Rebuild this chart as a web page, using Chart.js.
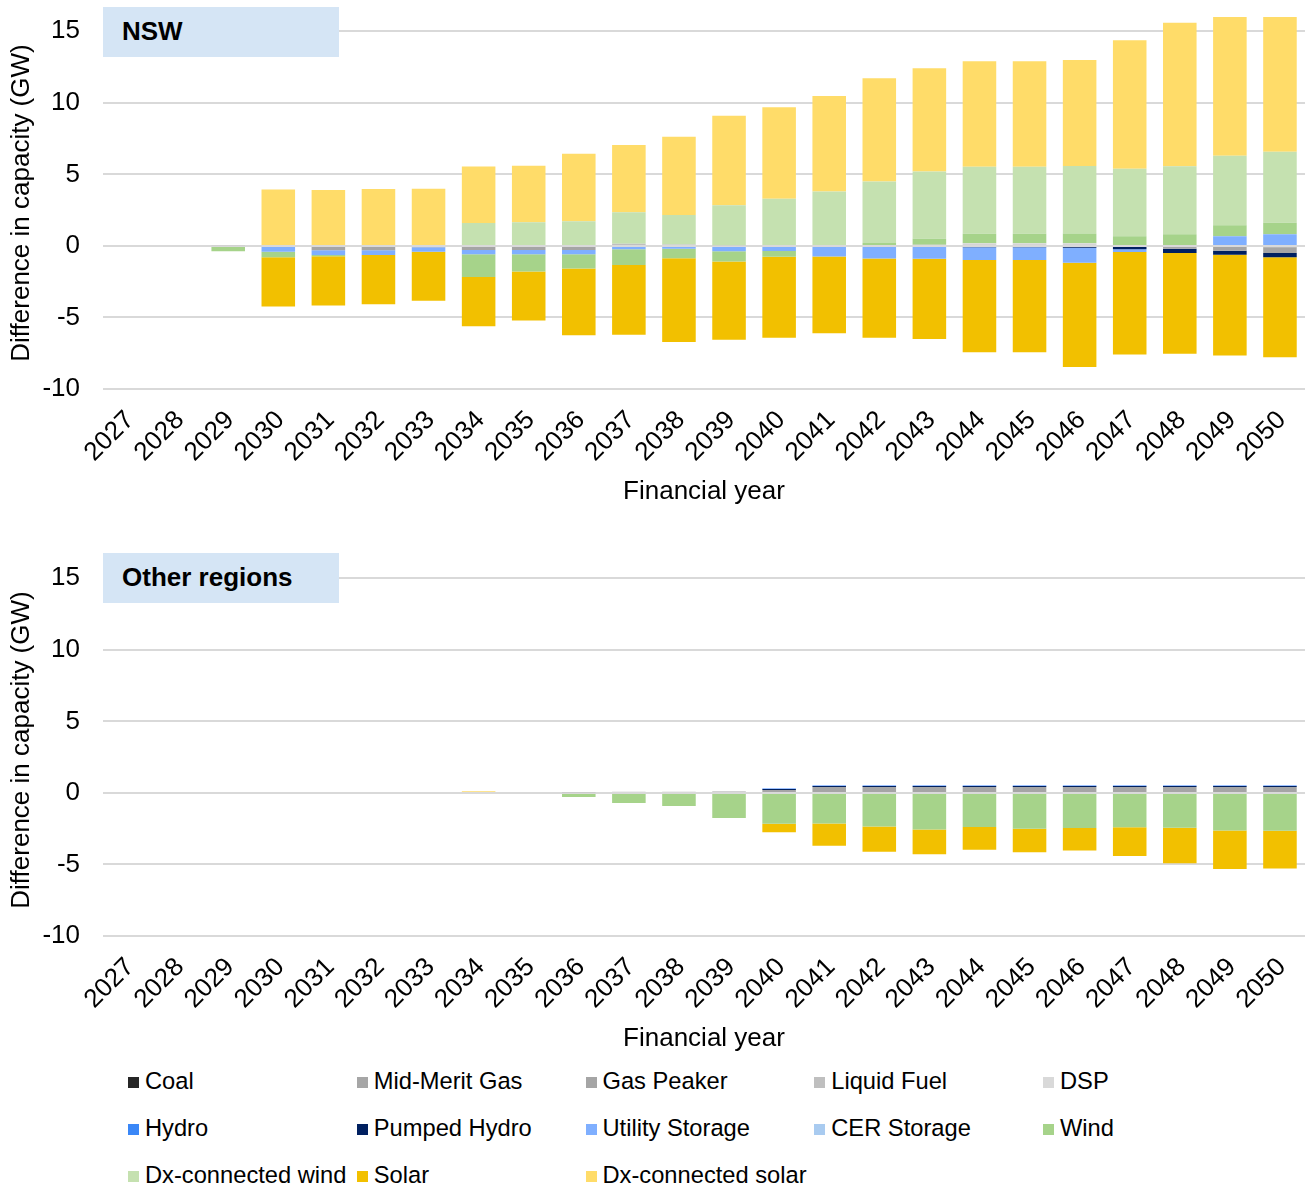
<!DOCTYPE html>
<html>
<head>
<meta charset="utf-8">
<script src="https://cdn.jsdelivr.net/npm/chart.js@4.4.1/dist/chart.umd.min.js"></script>
<style>
  body { margin: 0; background: #fff; font-family: "Liberation Sans", Arial, sans-serif; }
  #wrap { position: relative; width: 1307px; height: 1187px; }
  canvas { position: absolute; left: 0; }
  .tag { position: absolute; left: 103px; width: 236px; height: 50px; background: #D5E5F5;
         font-weight: bold; font-size: 26px; line-height: 48px; padding-left: 19px; box-sizing: border-box; color: #000; }
  .item { position: absolute; font-size: 23.7px; line-height: 28px; white-space: nowrap; color: #000; }
  .item i { display: inline-block; width: 11px; height: 11px; margin-right: 6px; vertical-align: 1px; }
</style>
</head>
<body>
<div id="wrap">
  <canvas id="nsw" width="1307" height="520" style="top:0"></canvas>
  <canvas id="other" width="1307" height="520" style="top:547px"></canvas>
  <div class="tag" style="top:7px">NSW</div>
  <div class="tag" style="top:553px">Other regions</div>
  <div id="legend"></div>
</div>
<script>
const years = ["2027","2028","2029","2030","2031","2032","2033","2034","2035","2036","2037","2038",
               "2039","2040","2041","2042","2043","2044","2045","2046","2047","2048","2049","2050"];

const seriesNames = ["Coal", "Mid-Merit Gas", "Gas Peaker", "Liquid Fuel", "DSP", "Hydro", "Pumped Hydro",
                     "Utility Storage", "CER Storage", "Wind", "Dx-connected wind", "Solar", "Dx-connected solar"];
const seriesColors = ["#262626", "#A6A6A6", "#A5A5A5", "#BFBFBF", "#D9D9D9", "#3A87F7", "#002060",
                      "#7FAFFF", "#A9CBF0", "#A6D38A", "#C5E1B0", "#F2C000", "#FFDC69"];

// NSW (GW difference), 2027..2050
const nswCoal        = [0,0,0,0,0,0,0,0,0,0,0,0,0,0,0,0,0,0,0,0,0,0,0,0];
const nswMidMerit    = [0,0,0,0,0,0,0,0,0,0,0,0,0,0,0,0,0,0,0,0,0,-0.19,0,-0.1];
const nswGasPeaker   = [0,0,0,0,-0.3,-0.3,-0.1,-0.28,-0.28,-0.28,0,0,0,0,0,0,0,0,0,0,0,0,-0.33,-0.4];
const nswLiquidFuel  = [0,0,0.05,0,0,0,0,0,0,0,0.15,0.1,0.05,0,0,0,0.08,0.1,0.1,0.1,0,0,0,0];
const nswDSP         = [0,0,0,0,0,0,0,0,0,0,0,0,0,0,0,0,0,0.08,0.08,0.08,0,0,0,0];
const nswHydro       = [0,0,0,0,0,0,0,0,0,0,0,0,0,0,0,0,0,0,0,0,0,0,0,0];
const nswPumped      = [0,0,0,0,0,0,0,0,0,0,0,0,0,0,0,0,0,-0.09,-0.09,-0.12,-0.23,-0.3,-0.28,-0.3];
const nswUtility     = [0,0,0,-0.4,-0.33,-0.33,-0.3,-0.3,-0.3,-0.3,-0.23,-0.2,-0.37,-0.35,-0.74,-0.88,-0.9,-0.9,-0.9,-1.05,-0.19,0,0.67,0.81];
const nswCER         = [0,0,0,0,0,0,0,0,0,0,0,0,0,0,0,0,0,0,0,0,0,0,0,0];
const nswWind        = [0,0,-0.37,-0.4,-0.1,0,0,-1.6,-1.2,-1.0,-1.1,-0.67,-0.72,-0.4,0,0.2,0.42,0.67,0.67,0.68,0.67,0.81,0.77,0.81];
const nswDxWind      = [0,0,0,0,0,0,0,1.6,1.65,1.73,2.2,2.06,2.79,3.3,3.81,4.31,4.7,4.68,4.68,4.72,4.73,4.75,4.86,4.96];
const nswSolar       = [0,0,0,-3.43,-3.43,-3.45,-3.43,-3.43,-3.43,-4.67,-4.87,-5.84,-5.47,-5.67,-5.37,-5.53,-5.6,-6.45,-6.45,-7.3,-7.16,-7.05,-7.05,-6.98];
const nswDxSolar     = [0,0,0,3.94,3.9,3.97,4.0,3.95,3.95,4.72,4.7,5.47,6.25,6.4,6.66,7.21,7.22,7.37,7.37,7.42,8.97,10.04,9.9,9.6];

// Other regions (GW difference), 2027..2050
const othCoal        = [0,0,0,0,0,0,0,0,0,0,0,0,0,0,0,0,0,0,0,0,0,0,0,0];
const othMidMerit    = [0,0,0,0,0,0,0,0,0,0,0,0,0,0,0,0,0,0,0,0,0,0,0,0];
const othGasPeaker   = [0,0,0,0,0,0,0,0,0,0,0,0,0.1,0.21,0.42,0.42,0.42,0.42,0.42,0.42,0.42,0.42,0.42,0.42];
const othLiquidFuel  = [0,0,0,0,0,0,0,0,0,0.03,0.08,0.08,0,0,0,0,0,0,0,0,0,0,0,0];
const othDSP         = [0,0,0,0,0,0,0,0,0,0,0,0,0,0,0,0,0,0,0,0,0,0,0,0];
const othHydro       = [0,0,0,0,0,0,0,0,0,0,0,0,0,0,0,0,0,0,0,0,0,0,0,0];
const othPumped      = [0,0,0,0,0,0,0,0,0,0,0,0,0,0.07,0.06,0.06,0.06,0.06,0.06,0.06,0.06,0.06,0.06,0.06];
const othUtility     = [0,0,0,0,0,0,0,0,0,0,0,0,0,0.05,0.05,0.05,0.05,0.05,0.05,0.05,0.05,0.05,0.05,0.05];
const othCER         = [0,0,0,0,0,0,0,0,0,0,0,0,0,0,0,0,0,0,0,0,0,0,0,0];
const othWind        = [0,0,0,0,0,0,0,0,0,-0.28,-0.7,-0.92,-1.76,-2.15,-2.13,-2.34,-2.55,-2.38,-2.5,-2.45,-2.4,-2.43,-2.62,-2.64];
const othDxWind      = [0,0,0,0,0,0,0,0,0,0,0,0,0,0,0,0,0,0,0,0,0,0,0,0];
const othSolar       = [0,0,0,0,0,0,0,0,0,0,0,0,0,-0.6,-1.57,-1.78,-1.74,-1.6,-1.64,-1.57,-2.0,-2.48,-2.7,-2.64];
const othDxSolar     = [0,0,0,0,0,0,0,0.12,0,0,0,0,0,0,0,0,0,0,0,0,0,0,0,0];

const yTicks = [-10, -5, 0, 5, 10, 15];

const nswData = [nswCoal, nswMidMerit, nswGasPeaker, nswLiquidFuel, nswDSP, nswHydro, nswPumped,
                 nswUtility, nswCER, nswWind, nswDxWind, nswSolar, nswDxSolar];
const othData = [othCoal, othMidMerit, othGasPeaker, othLiquidFuel, othDSP, othHydro, othPumped,
                 othUtility, othCER, othWind, othDxWind, othSolar, othDxSolar];

const font = "'Liberation Sans', Arial, sans-serif";

function makePanel(id, values) {
  new Chart(document.getElementById(id), {
    type: "bar",
    data: {
      labels: years,
      datasets: seriesNames.map((name, i) => ({
        label: name,
        data: values[i],
        backgroundColor: seriesColors[i],
        borderWidth: 0,
        barPercentage: 0.67,
        categoryPercentage: 1,
        stack: "s",
      })),
    },
    options: {
      responsive: false,
      animation: false,
      layout: { padding: { top: 17, right: 2, left: 0, bottom: 0 } },
      plugins: { legend: { display: false }, tooltip: { enabled: false } },
      scales: {
        x: {
          stacked: true,
          grid: { display: false },
          border: { display: false },
          ticks: { maxRotation: 45, minRotation: 45, color: "#000", padding: 8, labelOffset: 2, font: { family: font, size: 26 } },
          title: { display: true, text: "Financial year", color: "#000", font: { family: font, size: 26 }, padding: { top: 0, bottom: 13 } },
          afterFit: (s) => { s.height = 131; s.paddingLeft = 0; s.paddingRight = 0; },
        },
        y: {
          stacked: true,
          min: -10,
          max: 16,
          afterBuildTicks: (s) => { s.ticks = yTicks.map((v) => ({ value: v })); },
          grid: { color: "#D9D9D9", lineWidth: 2, drawTicks: false },
          border: { display: false },
          ticks: { color: "#000", padding: 23, font: { family: font, size: 26 } },
          title: { display: true, text: "Difference in capacity (GW)", color: "#000", font: { family: font, size: 26 }, padding: { top: 6, bottom: 0 } },
          afterFit: (s) => { s.width = 103; s.paddingTop = 0; s.paddingBottom = 0; },
        },
      },
    },
  });
}

makePanel("nsw", nswData);
makePanel("other", othData);

const legend = document.getElementById("legend");
seriesNames.forEach((name, i) => {
  const d = document.createElement("div");
  d.className = "item";
  d.style.left = (128 + (i % 5) * 228.75) + "px";
  d.style.top = (1067 + Math.floor(i / 5) * 47) + "px";
  d.innerHTML = '<i style="background:' + seriesColors[i] + '"></i>' + name;
  legend.appendChild(d);
});
</script>
</body>
</html>
